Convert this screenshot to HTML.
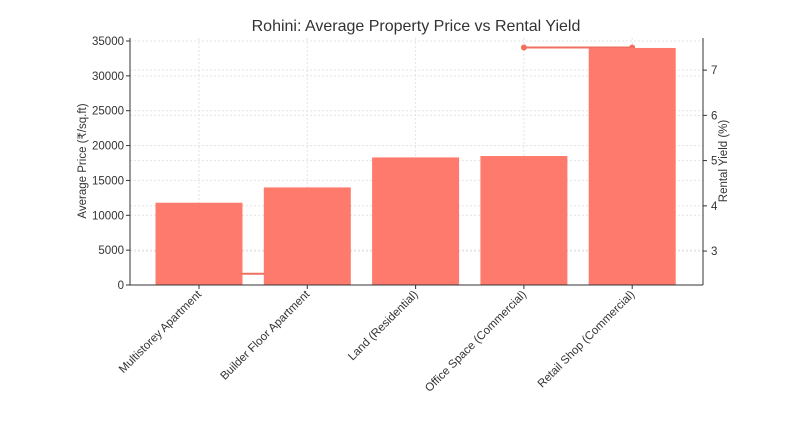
<!DOCTYPE html>
<html><head><meta charset="utf-8"><style>
body{margin:0;background:#fff;}
svg text{font-family:"Liberation Sans","DejaVu Sans",sans-serif;fill:#333;}
</style></head><body>
<svg id="chart" width="804" height="422" xmlns="http://www.w3.org/2000/svg">
<text x="416" y="31" text-anchor="middle" font-size="16">Rohini: Average Property Price vs Rental Yield</text>
<g id="grid"></g><g id="line"></g><g id="bars"></g><g id="axes"></g>
<text transform="translate(86,161) rotate(-90)" text-anchor="middle" font-size="11.5">Average Price (₹/sq.ft)</text>
<text transform="translate(727,161) rotate(-90)" text-anchor="middle" font-size="11.5">Rental Yield (%)</text>
</svg>
<script>
const categories=["Multistorey Apartment","Builder Floor Apartment","Land (Residential)","Office Space (Commercial)","Retail Shop (Commercial)"];
const prices=[11800,14000,18300,18500,34000];
const yields=[2.5,2.5,null,7.5,7.5];
const priceTicks=[0,5000,10000,15000,20000,25000,30000,35000];
const yieldTicks=[3,4,5,6,7];
const NS="http://www.w3.org/2000/svg";
const L=130,R=703,T=38,B=285;
const xS=i=>199+i*108.3;
const yP=v=>B-v*(B-41)/35000;
const yY=v=>B-(v-2.25)*(B-T)/(7.71-2.25);
function mk(tag,attrs,parent){const e=document.createElementNS(NS,tag);for(const k in attrs)e.setAttribute(k,attrs[k]);parent.appendChild(e);return e;}
const grid=document.getElementById('grid'),bars=document.getElementById('bars'),line=document.getElementById('line'),axes=document.getElementById('axes');
priceTicks.forEach(v=>{const y=yP(v);
 const g=mk('line',{x1:L,x2:R,y1:y,y2:y,stroke:'#e3e3e3','stroke-dasharray':'2,2'},grid);
 
 mk('line',{x1:L-4,x2:L,y1:y,y2:y,stroke:'#333'},axes);
 const t=mk('text',{x:L-6,y:y+4,'text-anchor':'end','font-size':'11.5'},axes);t.textContent=v;
 });
yieldTicks.forEach(v=>{const y=yY(v);
 const g=mk('line',{x1:L,x2:R,y1:y,y2:y,stroke:'#e3e3e3','stroke-dasharray':'2,2'},grid);
 
 mk('line',{x1:R,x2:R+4,y1:y,y2:y,stroke:'#333'},axes);
 const t=mk('text',{x:R+8,y:y+4,'font-size':'11.5'},axes);t.textContent=v;
 });
categories.forEach((c,i)=>{const x=xS(i);
 const g=mk('line',{x1:x,x2:x,y1:T,y2:B,stroke:'#e3e3e3','stroke-dasharray':'2,2'},grid);
 
 const b=mk('rect',{x:x-43.5,y:yP(prices[i]),width:87,height:B-yP(prices[i]),fill:'#fe7a6c'},bars);
 
 mk('line',{x1:x,x2:x,y1:B,y2:B+4,stroke:'#333'},axes);
 const t=mk('text',{transform:`translate(${x+3},${B+10}) rotate(-45)`,'text-anchor':'end','font-size':'11.5'},axes);t.textContent=c;
 });
for(let i=0;i<yields.length-1;i++){if(yields[i]==null||yields[i+1]==null)continue;
 const s=mk('line',{x1:xS(i),y1:yY(yields[i]),x2:xS(i+1),y2:yY(yields[i+1]),stroke:'#f07060','stroke-width':2},line);
 }
yields.forEach((v,i)=>{if(v==null)return;
 const p=mk('circle',{cx:xS(i),cy:yY(v),r:3,fill:'#f07060'},line);
 });
const a1=mk('line',{x1:L,x2:L,y1:T,y2:B,stroke:'#333'},axes);

const a2=mk('line',{x1:R,x2:R,y1:T,y2:B,stroke:'#333'},axes);

const a3=mk('line',{x1:L,x2:R,y1:B,y2:B,stroke:'#333'},axes);

</script>
</body></html>
